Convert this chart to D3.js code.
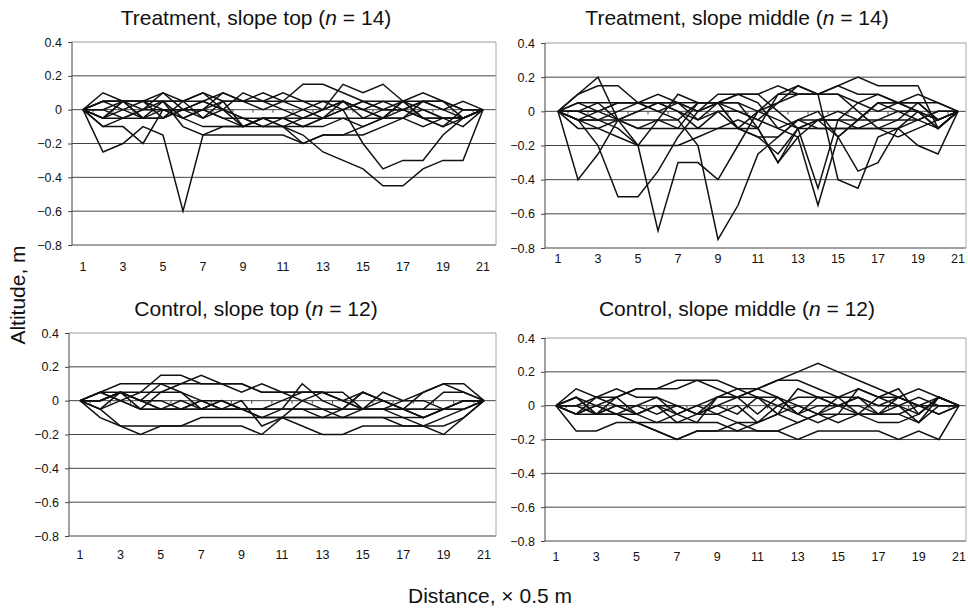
<!DOCTYPE html>
<html>
<head>
<meta charset="utf-8">
<title>Altitude profiles</title>
<script src="https://cdn.jsdelivr.net/npm/d3@7"></script>
<style>
  body { margin: 0; background: #fff; }
  svg text { font-family: Arial, "Liberation Sans", sans-serif; fill: #111; }
</style>
</head>
<body>
<svg id="chart" width="968" height="611"></svg>
<script>
// distance categories (x 0.5 m) and y ticks
var distance = d3.range(1, 22);
var xTickLabels = [1, 3, 5, 7, 9, 11, 13, 15, 17, 19, 21];
var yTicks = [0.4, 0.2, 0, -0.2, -0.4, -0.6, -0.8];

// Treatment, slope top (n = 14)
var treatTop = [
  [0,-0.25,-0.2,-0.1,-0.15,-0.6,-0.15, -0.15,-0.15,-0.15,-0.15,-0.2,-0.15,-0.15, -0.15,-0.1,-0.05,0,-0.05,-0.05,0],
  [0,-0.1,-0.1,-0.2,0,-0.05,-0.1, -0.1,-0.1,-0.1,-0.1,-0.15,-0.25,-0.3, -0.35,-0.45,-0.45,-0.35,-0.3,-0.3,0],
  [0,0.1,0.05,0,0.1,0.05,0.1, 0.05,-0.1,-0.05,-0.05,-0.1,-0.05,0, -0.2,-0.35,-0.3,-0.3,-0.15,-0.05,0],
  [0,-0.05,0.05,0.05,0.1,0,0, 0.1,0.05,0.1,0.05,0.15,0.15,0.1, 0.05,0,0,0.05,0.05,0,0],
  [0,0,0.05,0.05,0.05,0.05,-0.05, 0.05,0.05,0.05,0,-0.05,0,0.15, 0.1,0.15,0.05,-0.05,-0.1,-0.05,0],
  [0,-0.1,-0.05,-0.05,0.05,-0.1,-0.15, -0.1,-0.1,-0.05,-0.1,-0.2,-0.15,-0.15, -0.1,-0.05,-0.05,-0.1,-0.05,-0.05,0],
  [0,0.05,0.05,0.05,0.05,0.05,0.1, 0,-0.1,-0.05,-0.1,-0.1,-0.1,-0.05, -0.05,-0.05,0.05,0.1,0.05,-0.05,0],
  [0,0,-0.05,0,0.05,-0.05,0, 0.05,0.05,0.05,0.1,0.05,0.05,0, 0.05,0.05,0.05,0.05,0,-0.05,0],
  [0,-0.05,0,0.05,-0.05,0,0.05, 0.1,0.05,0,0.05,0.05,0,0.05, -0.05,0,0,-0.05,-0.1,0,0],
  [0,-0.05,-0.05,0,0,0,0, -0.05,-0.1,-0.05,-0.05,-0.1,-0.05,0, 0.05,0,0.05,-0.05,-0.05,-0.1,0],
  [0,0.05,0.05,-0.05,0,0,-0.05, 0,-0.05,-0.1,-0.05,0,0.05,0.05, 0,-0.05,0,0.05,0.05,0,0],
  [0,0.05,0,-0.05,-0.05,0.05,0.05, 0,0.1,0.05,0.05,0,-0.05,-0.05, -0.1,-0.05,0.05,0,-0.05,-0.05,0],
  [0,-0.05,0.05,-0.05,-0.05,0,0.05, 0,-0.05,-0.1,-0.1,-0.05,0,0.05, 0,0.05,0,-0.05,-0.05,-0.05,0],
  [0,0.05,0.05,0.05,0,-0.05,0, -0.05,-0.05,-0.05,-0.05,-0.05,-0.05,0.05, 0,-0.05,-0.05,0.05,0,0.05,0]
];

// Treatment, slope middle (n = 14)
var treatMid = [
  [0,-0.4,-0.25,-0.05,0,0.05,0.05, 0.05,0.05,0.05,0,-0.05,-0.1,-0.05, -0.05,-0.1,-0.05,0,-0.05,0,0],
  [0,-0.05,-0.2,-0.5,-0.5,-0.35,-0.15, 0,0.05,-0.1,-0.15,-0.15,-0.05,0, -0.15,-0.05,-0.05,-0.05,-0.05,-0.1,0],
  [0,-0.05,-0.05,-0.1,-0.2,-0.7,-0.3, -0.3,-0.4,-0.2,0,0.1,0.1,0.1, 0.1,0.05,0,0.05,0.05,-0.05,0],
  [0,0,-0.05,-0.05,-0.05,-0.05,-0.05, -0.2,-0.75,-0.55,-0.25,-0.15,-0.05,-0.1, -0.1,-0.1,-0.1,-0.15,-0.1,-0.05,0],
  [0,0.1,0.2,-0.05,-0.2,-0.05,0.1, 0.05,0.05,0.05,-0.1,-0.3,-0.15,-0.05, -0.05,-0.05,0.05,0,0,-0.1,0],
  [0,0.1,0.15,0.15,0.05,0.05,0.05, 0,0.05,0.1,0.1,0,-0.1,-0.45, -0.05,0.05,0.1,0.05,0,-0.05,0],
  [0,0.05,0.05,0.05,0.05,0.1,0.05, 0,0.1,0.1,0.05,-0.1,-0.15,-0.55, -0.15,-0.05,0.05,0.05,0.1,0.05,0],
  [0,-0.05,-0.1,-0.15,-0.2,-0.2,-0.2, -0.15,-0.1,-0.1,0,0.05,0.15,0.1, -0.4,-0.45,-0.15,-0.1,0,-0.05,0],
  [0,0,0.05,-0.05,0,0.05,0, -0.05,0,-0.1,-0.1,0.1,0.15,0.1, 0.15,0.2,0.15,0.15,0.15,-0.1,0],
  [0,-0.05,0,0.05,0.05,0,-0.05, 0.05,0.05,0.1,0.1,0.15,0.1,0.1, 0.15,0.1,0.1,0.05,0,-0.1,0],
  [0,-0.1,-0.1,-0.05,-0.1,-0.1,-0.1, -0.1,-0.1,-0.05,-0.1,-0.3,-0.1,-0.1, -0.1,-0.1,-0.1,-0.1,-0.05,0,0],
  [0,0.05,0,-0.05,-0.1,-0.05,-0.1, 0.05,0.05,0,-0.05,-0.1,-0.05,-0.05, -0.15,-0.35,-0.3,-0.1,-0.2,-0.25,0],
  [0,-0.05,-0.05,0,0.05,0.05,0, -0.1,0,0,-0.05,0.05,0.1,0.1, 0.1,0,-0.1,-0.05,0.05,-0.05,0],
  [0,0,0,0.05,0.05,0,0.05, -0.05,0.05,-0.1,-0.15,-0.25,-0.1,-0.05, 0,-0.05,0.05,0.05,0.05,0.05,0]
];

// Control, slope top (n = 12)
var ctrlTop = [
  [0,-0.1,-0.15,-0.2,-0.15,-0.15,-0.15, -0.15,-0.15,-0.2,-0.1,-0.15,-0.2,-0.2, -0.15,-0.15,-0.15,-0.15,-0.2,-0.1,0],
  [0,-0.05,-0.15,-0.15,-0.15,-0.15,-0.1, -0.1,-0.1,-0.1,-0.1,-0.1,-0.1,-0.1, -0.1,-0.1,-0.1,-0.1,-0.05,-0.05,0],
  [0,0.05,0.1,0.1,0.1,0.1,0.1, 0.1,0.1,0.05,0.05,0.05,0.05,0, 0.05,0,-0.05,-0.1,-0.05,0,0],
  [0,0,0.05,0.05,0.15,0.15,0.1, 0.1,0.1,0.05,0.05,0.05,0.05,0.05, -0.05,-0.05,0,0.05,0.1,0.1,0],
  [0,0.05,0,-0.05,0.05,0.1,0.15, 0.1,0.05,0.1,0.05,0,-0.05,-0.1, -0.05,0,-0.05,-0.1,-0.05,0,0],
  [0,0,0.05,0,0.1,0.05,-0.05, 0,-0.05,-0.05,-0.05,0.1,0,-0.05, 0.05,0,-0.05,-0.05,0.05,0.05,0],
  [0,-0.05,0,0.05,0.05,0.05,0, -0.05,0,-0.15,-0.1,0,0.05,0, -0.05,0.05,0,0,-0.05,0,0],
  [0,0.05,0.05,0,0,-0.05,0, -0.05,-0.05,-0.05,0,0.05,0.05,0, -0.05,-0.05,-0.05,0.05,0.1,0.05,0],
  [0,0,0.05,-0.05,-0.05,0,-0.05, 0,-0.05,-0.1,-0.05,-0.05,-0.1,-0.05, -0.05,-0.05,-0.1,-0.15,-0.1,-0.05,0],
  [0,0,0.05,0,-0.05,-0.05,0, 0,-0.05,-0.05,-0.05,-0.05,-0.05,-0.05, 0.05,0,-0.05,-0.1,-0.05,0,0],
  [0,0.05,0,-0.05,-0.05,-0.05,-0.05, -0.05,-0.05,-0.05,-0.05,-0.05,-0.05,-0.05, -0.05,-0.05,-0.05,-0.05,-0.05,-0.05,0],
  [0,-0.05,0.05,0,-0.05,-0.05,-0.05, -0.05,-0.05,-0.1,-0.1,-0.1,-0.1,-0.1, -0.1,-0.1,-0.15,-0.15,-0.15,-0.1,0]
];

// Control, slope middle (n = 12)
var ctrlMid = [
  [0,-0.15,-0.15,-0.1,-0.1,-0.15,-0.2, -0.15,-0.15,-0.15,-0.15,-0.15,-0.1,-0.05, -0.05,-0.05,-0.1,-0.1,-0.05,0.05,0],
  [0,0.1,0.05,0.05,0.1,0.1,0.1, 0.15,0.15,0.1,0.1,0.15,0.15,0.1, 0.05,0.05,0,0.05,0.1,0.05,0],
  [0,0.05,0,0.05,0.1,0.1,0.15, 0.15,0.1,0.05,0.05,0,0.05,0.05, 0.05,0.1,0.05,0.05,0,0.05,0],
  [0,0,0.05,0.1,0.05,0.05,-0.05, -0.1,0.05,0.05,0.1,0.15,0.2,0.25, 0.2,0.15,0.1,0.05,0,0,0],
  [0,-0.05,-0.05,-0.05,-0.1,-0.15,-0.2, -0.15,-0.15,-0.1,-0.15,-0.15,-0.2,-0.15, -0.15,-0.15,-0.15,-0.2,-0.15,-0.2,0],
  [0,0.05,-0.05,0,-0.05,-0.1,-0.1, -0.1,-0.1,-0.15,-0.1,-0.05,-0.1,-0.05, 0,0.05,0,0,-0.05,0.05,0],
  [0,-0.05,0,-0.05,-0.1,-0.1,-0.05, 0,-0.05,-0.1,-0.1,-0.05,0,-0.05, -0.1,-0.05,-0.05,-0.05,-0.1,0,0],
  [0,0,-0.05,0,-0.05,0,0, -0.05,0.05,0.05,0.1,0.05,-0.05,0.05, 0,-0.05,0.05,0.1,-0.05,0.05,0],
  [0,0.05,-0.05,0.05,-0.05,0,-0.1, -0.05,0,0.05,-0.05,0.05,-0.05,-0.1, -0.05,0.1,0.05,0,0.05,0,0],
  [0,-0.05,0,-0.05,0,-0.05,0, -0.05,0,-0.05,0.05,-0.05,0.1,0.05, 0,0.05,-0.05,0.05,0,-0.05,0],
  [0,0,-0.05,-0.05,-0.05,0,-0.05, 0,0.05,0.1,0.05,0.05,0,-0.05, 0.05,-0.05,-0.05,0,-0.1,0.05,0],
  [0,-0.05,0.05,0,0,0.05,0, -0.05,-0.05,0,-0.1,0,-0.05,0, 0,0,-0.05,-0.05,0,-0.05,0]
];

var panels = [
  { title: "Treatment, slope top", n: 14, data: treatTop,
    left: 72, right: 496, top: 42, bottom: 245, x1: 83, x21: 483, tx: 256, ty: 25, lab: 271 },
  { title: "Treatment, slope middle", n: 14, data: treatMid,
    left: 545, right: 966, top: 43, bottom: 248, x1: 558, x21: 958, tx: 737, ty: 25, lab: 263 },
  { title: "Control, slope top", n: 12, data: ctrlTop,
    left: 69, right: 496, top: 333, bottom: 536, x1: 80, x21: 484, tx: 256, ty: 316, lab: 559 },
  { title: "Control, slope middle", n: 12, data: ctrlMid,
    left: 545, right: 966, top: 338, bottom: 541, x1: 556, x21: 959, tx: 737, ty: 316, lab: 561 }
];

var svg = d3.select("#chart");
var fmt = function (d) { return d === 0 ? "0" : d3.format(".1f")(d); };

panels.forEach(function (p) {
  var x = d3.scalePoint().domain(distance).range([p.x1, p.x21]);
  var y = d3.scaleLinear().domain([-0.8, 0.4]).range([p.bottom, p.top]);
  var g = svg.append("g");
  var step = x.step();

  // title with italic n
  var t = g.append("text")
    .attr("x", p.tx).attr("y", p.ty)
    .attr("text-anchor", "middle")
    .style("font-size", "21px");
  t.append("tspan").text(p.title + " (");
  t.append("tspan").style("font-style", "italic").text("n");
  t.append("tspan").text(" = " + p.n + ")");

  // gridlines
  g.selectAll(".grid").data(yTicks).enter().append("line")
    .attr("x1", p.left).attr("x2", p.right)
    .attr("y1", function (d) { return y(d); })
    .attr("y2", function (d) { return y(d); })
    .attr("stroke", function (d) { return d === 0.4 ? "#9a9a9a" : "#444"; })
    .attr("stroke-width", 1);

  // plot frame
  g.append("line").attr("x1", p.left).attr("x2", p.left)
    .attr("y1", p.top).attr("y2", p.bottom).attr("stroke", "#444");
  g.append("line").attr("x1", p.right).attr("x2", p.right)
    .attr("y1", p.top).attr("y2", p.bottom).attr("stroke", "#aaa");

  // y axis
  var yAxis = d3.axisLeft(y).tickValues(yTicks).tickFormat(fmt).tickSize(4).tickPadding(6);
  var ya = g.append("g").attr("transform", "translate(" + p.left + ",0)").call(yAxis);
  ya.select(".domain").remove();
  ya.selectAll("line").attr("stroke", "#444");
  ya.selectAll("text").style("font-size", "12.5px").attr("fill", "#111");

  // zero line ticks between categories
  g.selectAll(".zt").data(d3.range(1, 21)).enter().append("line")
    .attr("x1", function (d) { return x(d) + step / 2; })
    .attr("x2", function (d) { return x(d) + step / 2; })
    .attr("y1", y(0)).attr("y2", y(0) + 3)
    .attr("stroke", "#444");

  // x tick labels
  g.selectAll(".xl").data(xTickLabels).enter().append("text")
    .attr("x", function (d) { return x(d); })
    .attr("y", p.lab)
    .attr("text-anchor", "middle")
    .style("font-size", "12.5px")
    .text(function (d) { return d; });

  // profile lines
  var line = d3.line()
    .x(function (d, i) { return x(distance[i]); })
    .y(function (d) { return y(d); });
  g.selectAll(".prof").data(p.data).enter().append("path")
    .attr("d", line)
    .attr("fill", "none")
    .attr("stroke", "#111")
    .attr("stroke-width", 1.5)
    .attr("stroke-linejoin", "miter");
});

// axis titles
svg.append("text")
  .attr("transform", "translate(25,295) rotate(-90)")
  .attr("text-anchor", "middle")
  .style("font-size", "21px")
  .text("Altitude, m");

svg.append("text")
  .attr("x", 490).attr("y", 603)
  .attr("text-anchor", "middle")
  .style("font-size", "21px")
  .text("Distance, \u00d7 0.5 m");
</script>
</body>
</html>
